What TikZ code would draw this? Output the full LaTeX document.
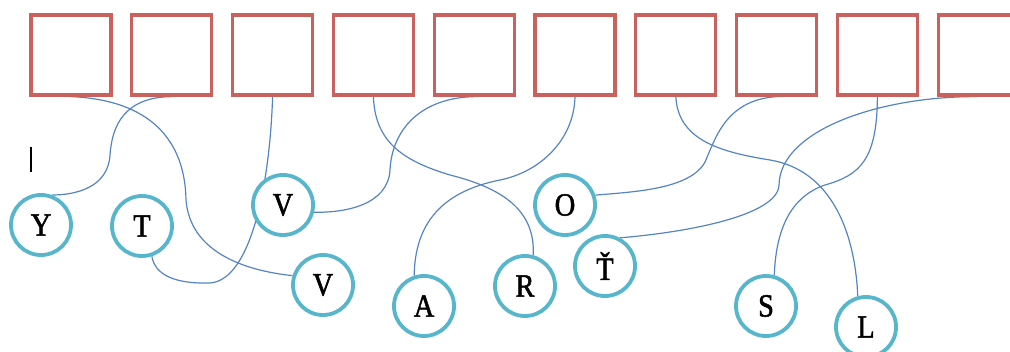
\documentclass[tikz,border=0pt]{standalone}
\usepackage{fontspec}
\setmainfont{Liberation Serif}[FakeStretch=0.88, FakeBold=1.5]
\usetikzlibrary{backgrounds}
\definecolor{cellred}{RGB}{201,98,94}
\definecolor{ringblue}{RGB}{88,182,204}
\definecolor{linkblue}{RGB}{84,132,196}

\begin{document}
\begin{tikzpicture}[x=0.025cm, y=-0.025cm,
		cell/.style={draw=cellred, line width=0.8mm, fill=white, minimum size=2cm, inner sep=0pt},
		letter/.style={circle, draw=ringblue, line width=0.95mm, fill=white, minimum size=1.5cm, inner sep=0pt, font=\fontsize{23}{27}\selectfont},
		link/.style={draw=linkblue, line width=0.3mm}]
		%%%%% START %%%%%
		
		\useasboundingbox (0, 0) rectangle (1010, 352);
		\clip (0, 0) rectangle (1010, 352);
		
		\node[cell] (b1) at (71, 55) {};
		\node[cell] (b2) at (171.8, 55) {};
		\node[cell] (b3) at (272.6, 55) {};
		\node[cell] (b4) at (373.4, 55) {};
		\node[cell] (b5) at (474.2, 55) {};
		\node[cell] (b6) at (575, 55) {};
		\node[cell] (b7) at (675.8, 55) {};
		\node[cell] (b8) at (776.6, 55) {};
		\node[cell] (b9) at (877.4, 55) {};
		\node[cell] (b10) at (978.2, 55) {};
		
		\draw[line width=0.3mm] (31, 147) -- (31, 172);
		
		\node[letter] (y) at (41, 225) {Y};
		\node[letter] (t) at (142, 226) {T};
		\node[letter] (v1) at (283, 205) {V};
		\node[letter] (v2) at (323, 285) {V};
		\node[letter] (a) at (424, 306) {A};
		\node[letter] (r) at (525, 286) {R};
		\node[letter] (o) at (565, 205) {O};
		\node[letter] (tc) at (605, 266) {Ť};
		\node[letter] (s) at (766, 306) {S};
		\node[letter] (l) at (866, 327) {L};
		
		\begin{pgfonlayer}{background}
		\draw[link] (b1.south) .. controls (150, 100) and (185, 140) .. (186, 200) .. controls (190, 250) and (240, 270) .. (v2.163);
		\draw[link] (b2.south) .. controls (125, 97) and (112, 125) .. (110, 155) .. controls (108, 188) and (75, 195) .. (y.70);
		\draw[link] (b3.south) .. controls (270, 180) and (252, 280) .. (210, 283) .. controls (175, 284) and (155, 275) .. (t.-72);
		\draw[link] (b4.south) .. controls (375, 140) and (400, 160) .. (450, 175) .. controls (510, 190) and (535, 215) .. (r.75);
		\draw[link] (b5.south) .. controls (420, 98) and (392, 130) .. (390, 170) .. controls (388, 205) and (345, 213) .. (v1.-13);
		\draw[link] (b6.south) .. controls (574, 140) and (540, 172) .. (500, 180) .. controls (440, 192) and (415, 225) .. (a.108);
		\draw[link] (b7.south) .. controls (678, 140) and (720, 152) .. (770, 160) .. controls (830, 170) and (855, 230) .. (l.105);
		\draw[link] (b8.south) .. controls (725, 100) and (715, 140) .. (705, 162) .. controls (690, 190) and (630, 192) .. (o.18);
		\draw[link] (b9.south) .. controls (877, 160) and (860, 175) .. (825, 185) .. controls (790, 197) and (776, 230) .. (s.75);
		\draw[link] (b10.south) .. controls (880, 96) and (780, 130) .. (779, 185) .. controls (778, 215) and (690, 232) .. (tc.62);
		\end{pgfonlayer}
		
		%%%%% END %%%%%
\end{tikzpicture}
\end{document}
